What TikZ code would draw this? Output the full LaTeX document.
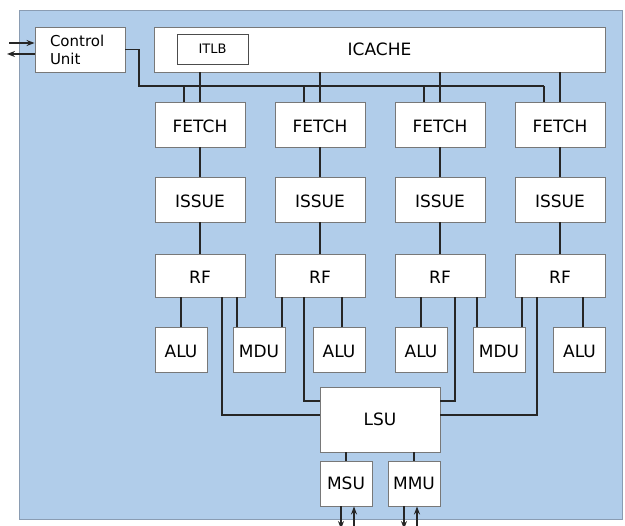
\documentclass[tikz,border=0pt]{standalone}
\usepackage{fontspec}
\setmainfont{DejaVu Sans}
\usetikzlibrary{arrows.meta}

\definecolor{coreblue}{RGB}{177,205,234}
\definecolor{coreedge}{RGB}{138,156,178}
\definecolor{boxedge}{RGB}{120,120,120}

\tikzset{
	box/.style={draw=boxedge, fill=white, line width=0.9pt, inner sep=0pt},
	unit/.style={box, minimum width=90pt, minimum height=45pt,
		font=\fontsize{17}{20}\selectfont},
	low/.style={text height=16pt, text depth=0pt},
	small/.style={unit, low, minimum width=52pt},
	wire/.style={line width=1.3pt, draw=black!85, line join=miter},
	port/.style={wire, -{Stealth[length=8pt,width=6pt]}},
}

\begin{document}
\begin{tikzpicture}[x=1pt,y=-1pt]
	% one unit is one pixel of the 625x526 picture, y runs down
	\useasboundingbox (0,0) rectangle (625,526);
	
	\filldraw[fill=coreblue, draw=coreedge, line width=1pt] (19.5,11) rectangle (622.5,520);
	% The core itself
	
	\node[box, text width=60pt, inner xsep=15pt, minimum height=45pt, align=left,
		font=\fontsize{15}{18}\selectfont] (cu) at (80,49.5) {Control\\Unit};
	\node[unit, minimum width=451pt] (icache) at (379.5,49.5) {ICACHE};
	\node[box, minimum width=71pt, minimum height=30pt, draw=black!70,
		font=\fontsize{13}{15}\selectfont] (itlb) at (212.5,49) {ITLB};
	
	\coordinate (ctlin) at (9,43);
	\coordinate (ctlout) at (7,54);
	\draw[port] (ctlin) -- (ctlin -| cu.west);
	\draw[port] (ctlout -| cu.west) -- (ctlout);
	
	\coordinate (bus) at (139,86);
	
	\foreach \c [count=\i] in {200,320,440,560}{% one pipeline per column
		\node[unit, low] (fetch\i) at (\c,124.5) {FETCH};
		\node[unit, low] (issue\i) at (\c,199.5) {ISSUE};
		\node[unit, low, minimum height=43pt] (rf\i) at (\c,275.5) {RF};
		\draw[wire] (fetch\i) -- (issue\i);
		\draw[wire] (issue\i) -- (rf\i);
		\draw[wire] (icache.south -| fetch\i.north) -- (fetch\i.north);
		\coordinate (drop\i) at ([xshift=-16pt]fetch\i.north);
		\draw[wire] (drop\i) -- (drop\i |- bus);
	}
	
	\draw[wire] (cu.east) -| (bus) -- (bus -| drop4);
	% control bus feeding every fetch stage
	
	\foreach \n/\t/\c in {alu1/ALU/181, mdu1/MDU/259, alu2/ALU/339,
		alu3/ALU/421, mdu2/MDU/499, alu4/ALU/579.5}{
		\node[small] (\n) at (\c,349.5) {\t};
	}
	
	\foreach \f/\t/\x in {rf1/alu1/181, rf1/mdu1/237, rf2/mdu1/282, rf2/alu2/342,
		rf3/alu3/421, rf3/mdu2/477, rf4/mdu2/522, rf4/alu4/583}{
		\coordinate (w) at (\x,0);
		\draw[wire] (\f.south -| w) -- (\t.north -| w);
	}
	
	\node[unit, minimum width=120pt, minimum height=65pt] (lsu) at (380,419.5) {LSU};
	
	\foreach \f/\x/\y/\s in {rf1/222/415/west, rf2/304/401/west,
		rf3/455/401/east, rf4/537/415/east}{
		\coordinate (w) at (\x,\y);
		\draw[wire] (\f.south -| w) |- (lsu.\s |- w);
	}
	
	\node[unit, minimum width=52pt] (msu) at (346,483.5) {MSU};
	\node[unit, minimum width=52pt] (mmu) at (414,483.5) {MMU};
	\draw[wire] (lsu.south -| msu) -- (msu);
	\draw[wire] (lsu.south -| mmu) -- (mmu);
	
	\foreach \b/\x in {msu/341, mmu/404}{% memory side ports
		\coordinate (w) at (\x,529);
		\draw[port] (\b.south -| w) -- (w);
		\coordinate (w) at (\x+13,529);
		\draw[port] (w) -- (\b.south -| w);
	}
\end{tikzpicture}
\end{document}
